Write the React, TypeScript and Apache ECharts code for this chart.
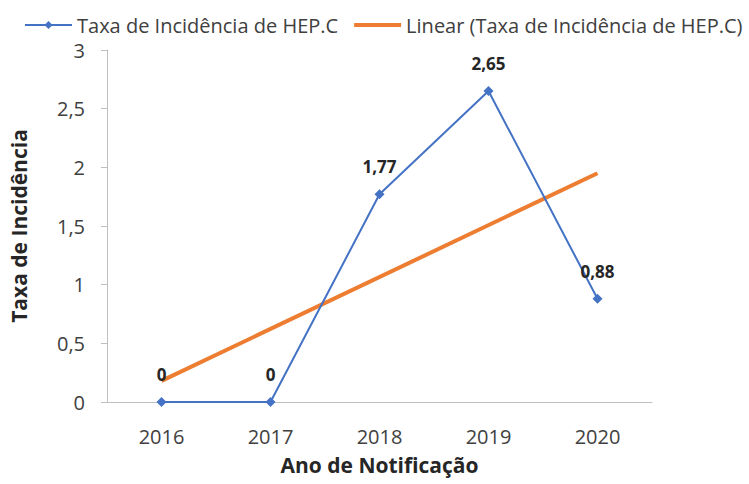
import React, { useEffect, useRef } from "react";
import * as echarts from "echarts";

const years = ["2016", "2017", "2018", "2019", "2020"];
const incidence = [0, 0, 1.77, 2.65, 0.88];
// Linear trend line endpoints
const trend = [0.18, null, null, null, 1.95];
const seriesName = "Taxa de Incidência de HEP.C";
const trendName = "Linear (Taxa de Incidência de HEP.C)";

const FONT = "'Open Sans', sans-serif";

export default function App() {
  const ref = useRef<HTMLDivElement>(null);
  useEffect(() => {
    if (!ref.current) return;
    const chart = echarts.init(ref.current, null, { renderer: "svg" });
    chart.setOption({
      animation: false,
      backgroundColor: "#ffffff",
      textStyle: { fontFamily: FONT },
      legend: {
        top: 15,
        left: 24,
        right: 0,
        padding: 0,
        itemWidth: 47,
        itemHeight: 10,
        itemGap: 16,
        textStyle: { fontSize: 20, color: "#404040", fontFamily: FONT },
        data: [
          { name: seriesName },
          { name: trendName, icon: "path://M0 0 H100 V8 H0 Z" },
        ],
      },
      grid: { left: 104, right: 97, top: 50, bottom: 82 },
      xAxis: {
        type: "category",
        data: years,
        boundaryGap: true,
        axisLine: { lineStyle: { color: "#bfbfbf", width: 1 } },
        axisTick: { show: false },
        axisLabel: { fontSize: 20, color: "#404040", margin: 24, fontFamily: FONT },
        name: "Ano de Notificação",
        nameLocation: "middle",
        nameGap: 52,
        nameTextStyle: { fontSize: 21, fontWeight: "bold", color: "#262626", fontFamily: FONT },
      },
      yAxis: {
        type: "value",
        min: 0,
        max: 3,
        interval: 0.5,
        splitLine: { show: false },
        axisLine: { show: true, lineStyle: { color: "#bfbfbf", width: 1 } },
        axisTick: { show: true, length: 6, lineStyle: { color: "#bfbfbf" } },
        axisLabel: {
          fontSize: 20,
          color: "#404040",
          margin: 22,
          fontFamily: FONT,
          formatter: (v: number) => String(v).replace(".", ","),
        },
        name: "Taxa de Incidência",
        nameLocation: "middle",
        nameGap: 78,
        nameTextStyle: { fontSize: 21, fontWeight: "bold", color: "#262626", fontFamily: FONT },
      },
      series: [
        {
          name: seriesName,
          type: "line",
          data: incidence,
          symbol: "diamond",
          symbolSize: 10,
          color: "#4472C4",
          lineStyle: { color: "#4472C4", width: 2 },
          itemStyle: { color: "#4472C4" },
          label: {
            show: true,
            position: "top",
            distance: 14,
            fontSize: 17,
            fontWeight: "bold",
            color: "#262626",
            fontFamily: FONT,
            formatter: (p: any) => String(p.value).replace(".", ","),
          },
          z: 3,
        },
        {
          name: trendName,
          type: "line",
          data: trend,
          connectNulls: true,
          symbol: "none",
          color: "#ED7D31",
          lineStyle: { color: "#ED7D31", width: 4 },
          z: 2,
        },
      ],
    });
    return () => chart.dispose();
  }, []);
  return <div ref={ref} style={{ width: 749, height: 484, position: "absolute", left: 0, top: 0 }} />;
}
